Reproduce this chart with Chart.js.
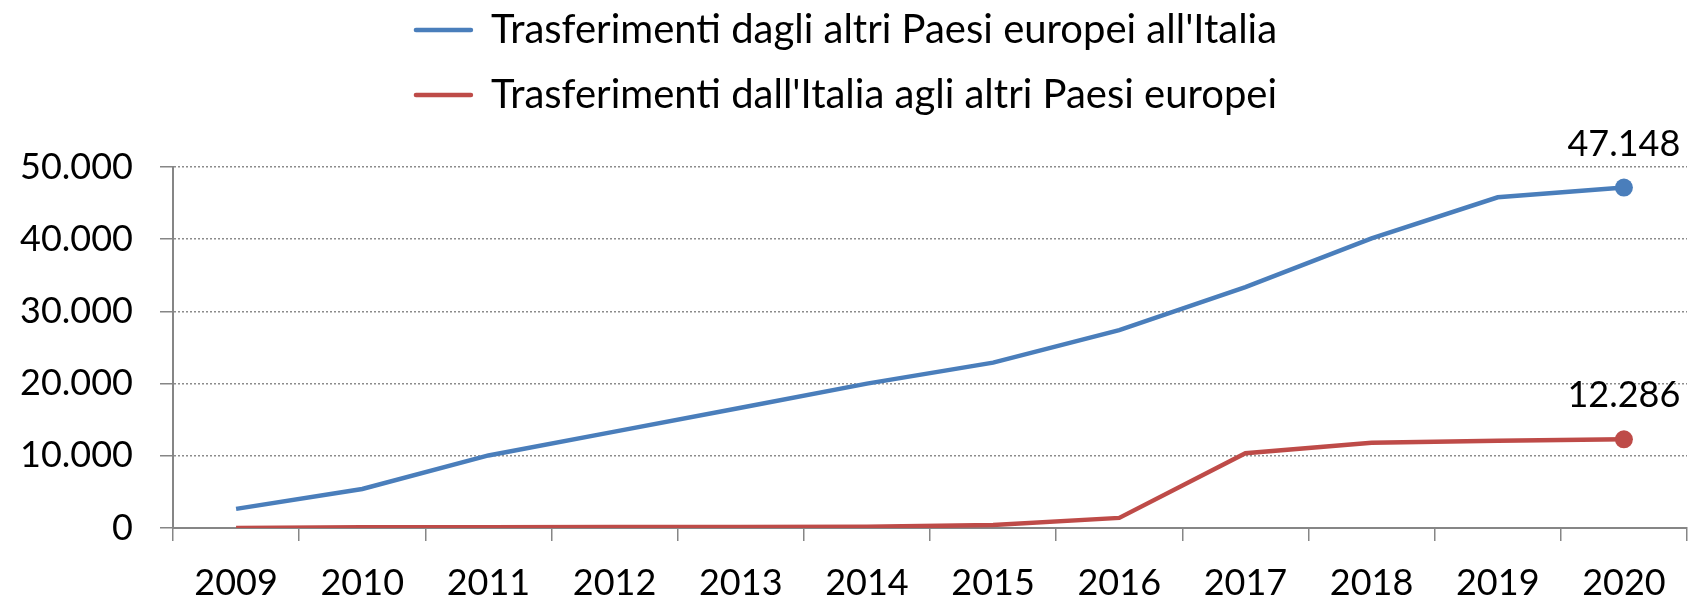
<!DOCTYPE html>
<html>
<head>
<meta charset="utf-8">
<script src="https://cdn.jsdelivr.net/npm/chart.js@4"></script>
<style>
  body { margin: 0; background: #fff; }
  #wrap { width: 1696px; height: 605px; }
</style>
</head>
<body>
<div id="wrap"><canvas id="myChart"></canvas></div>
<script>
// Data
var years = ['2009', '2010', '2011', '2012', '2013', '2014', '2015', '2016', '2017', '2018', '2019', '2020'];
var toItaly = [2650, 5400, 10050, 13350, 16650, 20000, 22900, 27400, 33350, 40100, 45800, 47148];
var fromItaly = [0, 100, 120, 150, 150, 180, 400, 1400, 10350, 11800, 12100, 12286];
var seriesNames = [
    "Trasferimenti dagli altri Paesi europei all'Italia",
    "Trasferimenti dall'Italia agli altri Paesi europei"
];
var yMax = 50000;
var yStep = 10000;

var blue = '#4a7ebb';
var red = '#be4b48';
var axisGray = '#868686';

// 50000 -> "50.000"
function fmt(v) {
    return String(Math.round(v)).replace(/\B(?=(\d{3})+(?!\d))/g, '.');
}

function onlyLast(ctx) {
    return ctx.dataIndex === ctx.dataset.data.length - 1 ? 9 : 0;
}

// value labels above the last point of each line
var endLabels = {
    id: 'endLabels',
    afterDatasetsDraw: function (chart) {
        var ctx = chart.ctx;
        chart.data.datasets.forEach(function (ds, i) {
            var meta = chart.getDatasetMeta(i);
            var pt = meta.data[meta.data.length - 1];
            ctx.save();
            ctx.font = '36px Lato';
            ctx.fillStyle = '#000';
            ctx.textAlign = 'center';
            ctx.textBaseline = 'alphabetic';
            ctx.fillText(fmt(ds.data[ds.data.length - 1]), pt.x, pt.y - 32);
            ctx.restore();
        });
    }
};

// leave room between legend and plot
var legendSpace = {
    id: 'legendSpace',
    beforeInit: function (chart) {
        var fit = chart.legend.fit;
        chart.legend.fit = function () {
            fit.call(this);
            this.height = 182;
        };
    }
};

var ctx = document.getElementById('myChart').getContext('2d');
var myChart = new Chart(ctx, {
    type: 'line',
    data: {
        labels: years,
        datasets: [{
            label: seriesNames[0],
            data: toItaly,
            borderColor: blue,
            backgroundColor: blue,
            borderWidth: 4.5,
            pointRadius: onlyLast,
            pointBackgroundColor: blue,
            pointBorderWidth: 0,
            tension: 0
        }, {
            label: seriesNames[1],
            data: fromItaly,
            borderColor: red,
            backgroundColor: red,
            borderWidth: 4.5,
            pointRadius: onlyLast,
            pointBackgroundColor: red,
            pointBorderWidth: 0,
            tension: 0
        }]
    },
    options: {
        responsive: true,
        maintainAspectRatio: false,
        animation: false,
        layout: { padding: { top: -15, right: 3, left: 0, bottom: 0 } },
        plugins: {
            tooltip: { enabled: false },
            legend: {
                position: 'top',
                labels: {
                    font: { family: 'Lato', size: 40 },
                    color: '#000',
                    padding: 25,
                    usePointStyle: true,
                    pointStyle: 'line',
                    pointStyleWidth: 55,
                    generateLabels: function (chart) {
                        var items = Chart.defaults.plugins.legend.labels.generateLabels(chart);
                        items.forEach(function (it) {
                            var ds = chart.data.datasets[it.datasetIndex];
                            it.pointStyle = 'line';
                            it.lineWidth = 4.5;
                            it.strokeStyle = ds.borderColor;
                            it.lineCap = 'round';
                        });
                        return items;
                    }
                }
            }
        },
        scales: {
            x: {
                offset: true,
                grid: {
                    offset: true,
                    drawOnChartArea: false,
                    drawTicks: true,
                    tickLength: 13,
                    color: axisGray,
                    lineWidth: 1.5
                },
                border: { color: axisGray, width: 2 },
                ticks: {
                    font: { family: 'Lato', size: 36 },
                    color: '#000',
                    padding: 21,
                    maxRotation: 0,
                    autoSkip: false
                },
                afterFit: function (scale) { scale.height = 77; }
            },
            y: {
                min: 0,
                max: yMax,
                grid: {
                    color: '#8c8c8c',
                    lineWidth: 1.5,
                    tickLength: 13,
                    tickColor: axisGray,
                    tickBorderDash: [1, 0]
                },
                border: { color: axisGray, width: 2, dash: [2, 2] },
                ticks: {
                    stepSize: yStep,
                    font: { family: 'Lato', size: 36 },
                    color: '#000',
                    padding: 27,
                    callback: function (v) { return fmt(v); }
                },
                afterFit: function (scale) { scale.width = 173; }
            }
        }
    },
    plugins: [legendSpace, endLabels]
});
</script>
</body>
</html>
